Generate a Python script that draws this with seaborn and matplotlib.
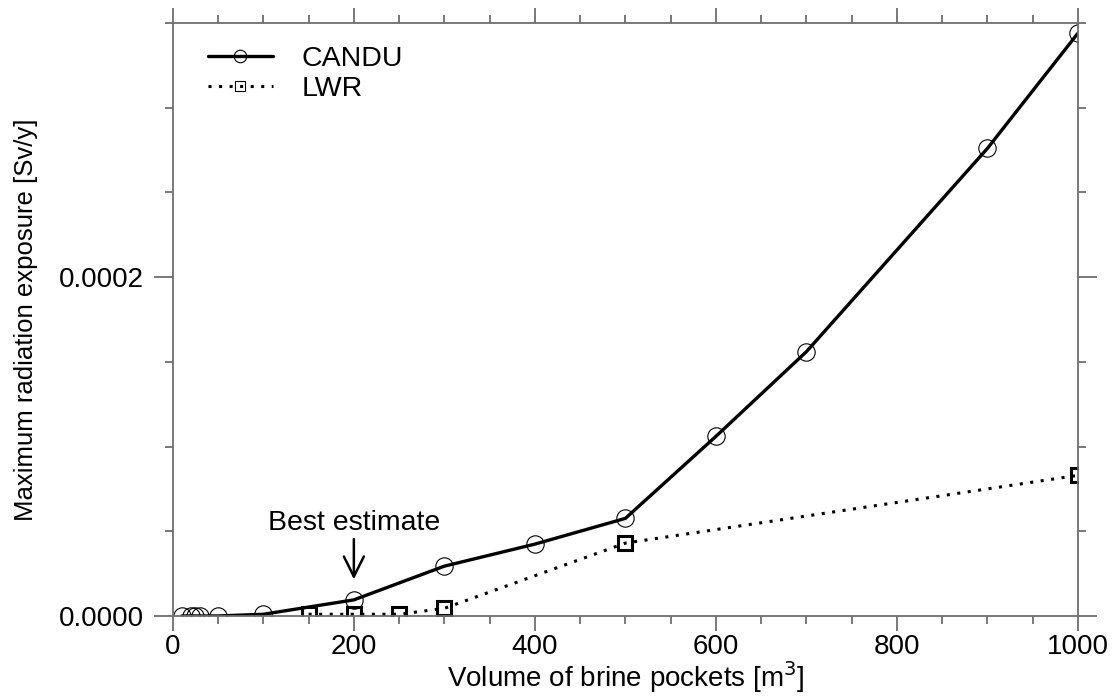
import matplotlib
matplotlib.use("Agg")
import matplotlib.pyplot as plt
from matplotlib.lines import Line2D
from matplotlib.ticker import MultipleLocator, FormatStrFormatter
import seaborn as sns
import pandas as pd

# data
candu_x = [10, 20, 25, 30, 50, 100, 200, 300, 400, 500, 600, 700, 900, 1000]
candu_y = [0.0, 0.0, 0.0, 0.0, 0.0, 1.0e-6, 9.5e-6, 2.94e-5, 4.24e-5, 5.76e-5,
           1.06e-4, 1.56e-4, 2.76e-4, 3.44e-4]
lwr_x = [150, 200, 250, 300, 500, 1000]
lwr_y = [1.0e-6, 1.0e-6, 1.0e-6, 4.5e-6, 4.3e-5, 8.3e-5]

candu = pd.DataFrame({'vol': candu_x, 'dose': candu_y})
lwr = pd.DataFrame({'vol': lwr_x, 'dose': lwr_y})

sns.set_theme(style='ticks')
plt.rcParams['font.family'] = ['Liberation Sans', 'DejaVu Sans']
plt.rcParams['text.color'] = 'black'
plt.rcParams['axes.labelcolor'] = 'black'

grey = '#6e6e6e'
dots = (0, (1.0, 2.45))
fig = plt.figure(figsize=(11.15, 6.96), dpi=100)
ax = fig.add_axes([0.155, 0.115, 0.8118, 0.852])

sns.lineplot(data=candu, x='vol', y='dose', ax=ax, color='black', lw=2.4,
             marker='o', markersize=12.5, markerfacecolor='none',
             markeredgecolor='black', markeredgewidth=0.8)
sns.lineplot(data=lwr, x='vol', y='dose', ax=ax, color='black', lw=2.2,
             linestyle=dots, marker='s', markersize=9.5,
             markerfacecolor='none', markeredgecolor='black',
             markeredgewidth=2.2)
for ln in ax.lines:
    ln.set_clip_on(True)
    ln.set_clip_path(ax.patch)

ax.set_xlim(0, 1000)
ax.set_ylim(0, 0.00035)
ax.xaxis.set_major_locator(MultipleLocator(200))
ax.xaxis.set_minor_locator(MultipleLocator(50))
ax.yaxis.set_major_locator(MultipleLocator(0.0002))
ax.yaxis.set_minor_locator(MultipleLocator(0.00005))
ax.yaxis.set_major_formatter(FormatStrFormatter('%.4f'))

for s in ax.spines.values():
    s.set_visible(True)
    s.set_color(grey)
    s.set_linewidth(1.3)
ax.tick_params(which='both', direction='out', color=grey, width=1.3,
               top=True, right=True, labelsize=20, labelcolor='black')
ax.tick_params(axis='x', which='major', length=11, pad=2)
ax.tick_params(axis='y', which='major', length=14, pad=7)
ax.tick_params(which='minor', length=6)

ax.set_xlabel('Volume of brine pockets [m$^3$]', fontsize=20, labelpad=-1)
ax.set_ylabel('Maximum radiation exposure [Sv/y]', fontsize=18.5, labelpad=15)

ax.annotate('', xy=(200, 2.0e-5), xytext=(200, 4.7e-5),
            arrowprops=dict(arrowstyle='->', color='black', lw=1.8,
                            mutation_scale=36))
ax.text(200, 5.5e-5, 'Best estimate', ha='center', va='center', fontsize=20.5)

handles = [
    Line2D([], [], color='black', lw=2.4, marker='o', markersize=9,
           markerfacecolor='none', markeredgewidth=0.8),
    Line2D([], [], color='black', lw=2.2, linestyle=dots,
           marker='s', markersize=7, markerfacecolor='none',
           markeredgewidth=0.8),
]
ax.legend(handles, ['CANDU', 'LWR'], loc='upper left', frameon=False,
          fontsize=20.5, handlelength=2.3, handletextpad=1.0,
          bbox_to_anchor=(0.01, 1.005), labelspacing=0.15)

fig.savefig('out.png', dpi=100)
